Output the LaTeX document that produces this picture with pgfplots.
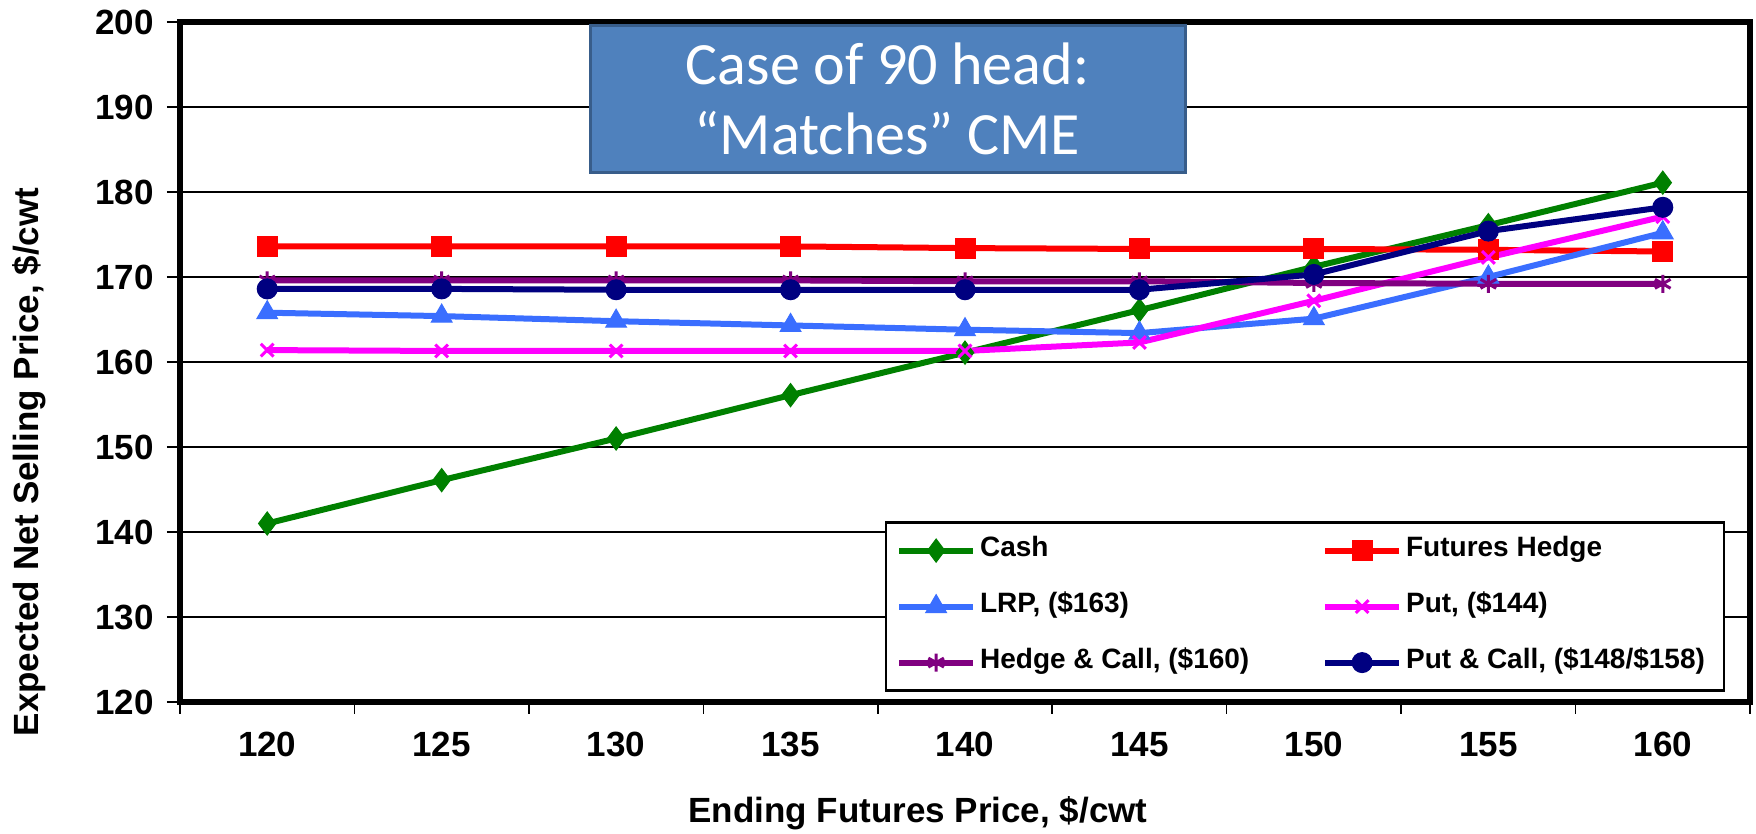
\documentclass[border=0pt]{standalone}
\usepackage{fontspec}
\setmainfont{Liberation Sans}
\newfontfamily\carlito{Carlito}
\usepackage{pgfplots}
\pgfplotsset{compat=1.18}
\definecolor{cashg}{HTML}{008000}
\definecolor{futr}{HTML}{FF0000}
\definecolor{lrpb}{HTML}{3A6EFF}
\definecolor{putm}{HTML}{FF00FF}
\definecolor{hcp}{HTML}{800080}
\definecolor{pcn}{HTML}{000080}
\definecolor{boxfill}{HTML}{4F81BD}
\definecolor{boxdraw}{HTML}{385D8A}
\begin{document}
\begin{tikzpicture}
\path[use as bounding box] (0,0) rectangle (878pt,417pt);
\begin{axis}[
 at={(90pt,66pt)}, anchor=south west,
 scale only axis, width=785pt, height=340pt,
 xmin=117.5, xmax=162.5, ymin=120, ymax=200,
 xtick={120,125,...,160}, minor xtick={117.5,122.5,...,162.5},
 ytick={120,130,...,200},
 xtick pos=bottom, ytick pos=left,
 ymajorgrids, major grid style={line width=0.6pt, black},
 tick align=outside, major tick length=6.5pt, minor tick length=6pt,
 major x tick style={draw=none},
 tick style={black, line width=0.8pt},
 axis line style={line width=3pt},
 /pgf/number format/assume math mode=true,
 ticklabel style={font=\fontsize{17.5}{20}\selectfont\bfseries},
 xticklabel style={yshift=-5pt},
 yticklabel style={xshift=-3pt},
 xlabel={Ending Futures Price, \$/cwt},
 ylabel={Expected Net Selling Price, \$/cwt},
 label style={font=\fontsize{17.5}{20}\selectfont\bfseries},
 xlabel style={at={(axis description cs:0.470,-0.163)}, anchor=center},
 ylabel style={at={(axis description cs:-0.0962,0.353)}, anchor=center},
 legend columns=2, legend cell align=left,
 legend style={at={(0.449,0.015)}, anchor=south west, draw=black, line width=1.2pt,
   fill=white,
   inner sep=5pt, row sep=10pt, font=\fontsize{14}{16}\selectfont\bfseries,
   nodes={inner sep=2pt, text height=10pt, text depth=4pt},
   /tikz/every even column/.append style={column sep=3pt}},
 legend image code/.code={\draw[mark repeat=2,mark phase=2,#1] plot coordinates {(0pt,0pt) (18.5pt,0pt) (37pt,0pt)};},
 every axis plot/.append style={line width=3pt},
]
\addplot[color=cashg, mark=diamond*, mark size=5.8pt, mark options={solid,line width=0.5pt}] coordinates {
(120,141.0) (125,146.1) (130,151.0) (135,156.1) (140,161.1) (145,166.1) (150,171.2) (155,176.1) (160,181.1)};
\addlegendentry{\makebox[166pt][l]{Cash}}
\addplot[color=futr, mark=square*, mark size=5pt, mark options={solid,line width=0.5pt}] coordinates {
(120,173.6) (125,173.6) (130,173.6) (135,173.6) (140,173.4) (145,173.3) (150,173.3) (155,173.2) (160,173.0)};
\addlegendentry{\makebox[152pt][l]{Futures Hedge}}
\addplot[color=lrpb, mark=triangle*, mark size=6pt, mark options={solid,line width=0.5pt}] coordinates {
(120,165.8) (125,165.4) (130,164.8) (135,164.3) (140,163.8) (145,163.4) (150,165.1) (155,170.0) (160,175.2)};
\addlegendentry{\makebox[166pt][l]{LRP, (\$163)}}
\addplot[color=putm, mark=x, mark size=4.5pt, mark options={solid,line width=1.5pt}] coordinates {
(120,161.4) (125,161.3) (130,161.3) (135,161.3) (140,161.3) (145,162.3) (150,167.2) (155,172.3) (160,177.1)};
\addlegendentry{\makebox[152pt][l]{Put, (\$144)}}
\addplot[color=hcp, mark=asterisk, mark size=4.5pt, mark options={solid,line width=1.5pt}] coordinates {
(120,169.6) (125,169.6) (130,169.6) (135,169.6) (140,169.5) (145,169.5) (150,169.3) (155,169.2) (160,169.2)};
\addlegendentry{\makebox[166pt][l]{Hedge \& Call, (\$160)}}
\addplot[color=pcn, mark=*, mark size=5pt, mark options={solid,line width=0.5pt}] coordinates {
(120,168.6) (125,168.6) (130,168.5) (135,168.5) (140,168.5) (145,168.5) (150,170.3) (155,175.4) (160,178.2)};
\addlegendentry{\makebox[152pt][l]{Put \& Call, (\$148/\$158)}}
\end{axis}
\node[draw=boxdraw, fill=boxfill, line width=1.5pt, minimum width=297.5pt, minimum height=73.5pt,
  text=white, align=center, font=\carlito\fontsize{30}{35}\selectfont, inner sep=0pt]
  at (443.75pt,367.3pt) {Case of 90 head:\\“Matches” CME};
\end{tikzpicture}
\end{document}
